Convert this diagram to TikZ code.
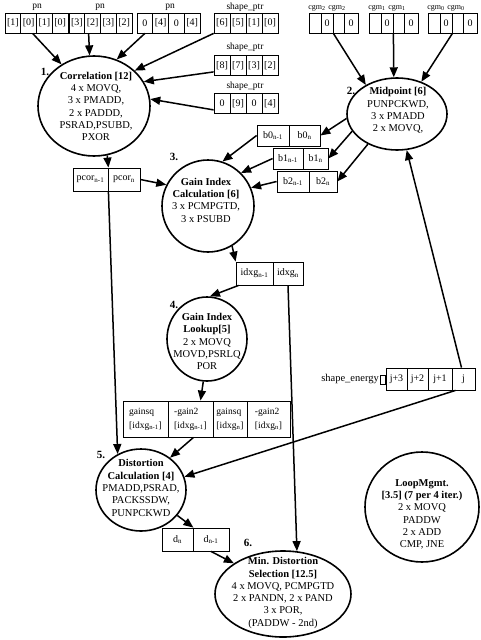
\documentclass[tikz,border=0pt]{standalone}
\usepackage{fontspec}
\setmainfont{Liberation Serif}
\usetikzlibrary{arrows.meta,shapes.geometric}
\begin{document}
\begin{tikzpicture}[x=1pt,y=-1pt,
  cell/.style={draw,line width=0.8pt,inner sep=0pt,minimum height=20pt,font=\fontsize{10}{11}\selectfont},
  cell2/.style={draw,line width=0.8pt,inner sep=0pt,minimum height=36pt,align=left,font=\fontsize{9.5}{14}\selectfont},
  ell/.style={draw,ellipse,line width=1.6pt,inner sep=0pt},
  etxt/.style={align=center,font=\fontsize{10.5}{12.3}\selectfont,inner sep=0pt},
  lbl/.style={font=\fontsize{9.5}{10}\selectfont,inner sep=0pt},
  slbl/.style={font=\fontsize{8}{9}\selectfont,inner sep=0pt},
  num/.style={font=\bfseries\fontsize{11}{12}\selectfont,inner sep=0pt},
  conn/.style={line width=1.5pt,-{Triangle[length=10pt,width=8pt]}}]
\useasboundingbox (0,0) rectangle (480,640);

% ---- top row: pn groups
\node[lbl] (pnA) at (37,7) {pn};
\node[lbl] (pnB) at (100,7) {pn};
\node[lbl] (pnC) at (170,7) {pn};
\foreach \t [count=\i] in {{[1]},{[0]},{[1]},{[0]}}
  \node[cell,minimum width=15.75pt] (pa-\i) at ({5+15.75*(\i-0.5)},23) {\t};
\foreach \t [count=\i] in {{[3]},{[2]},{[3]},{[2]}}
  \node[cell,minimum width=15.75pt] (pb-\i) at ({69+15.75*(\i-0.5)},23) {\t};
\foreach \t [count=\i] in {{0},{[4]},{0},{[4]}}
  \node[cell,minimum width=15.75pt] (pc-\i) at ({137+15.75*(\i-0.5)},23) {\t};

% ---- shape_ptr
\node[lbl] (spA) at (245,7) {shape\_ptr};
\node[lbl] (spB) at (245,47) {shape\_ptr};
\node[lbl] (spC) at (245,86) {shape\_ptr};
\foreach \t [count=\i] in {{[6]},{[5]},{[1]},{[0]}}
  \node[cell,minimum width=16pt] (s1-\i) at ({214+16*(\i-0.5)},23) {\t};
\foreach \t [count=\i] in {{[8]},{[7]},{[3]},{[2]}}
  \node[cell,minimum width=16pt] (s2-\i) at ({214+16*(\i-0.5)},65.5) {\t};
\foreach \t [count=\i] in {{0},{[9]},{0},{[4]}}
  \node[cell,minimum width=16pt] (s3-\i) at ({214+16*(\i-0.5)},103.5) {\t};

% ---- cgm groups
\foreach \L/\g/\s in {309/1/2,369/2/1,428/3/0} {
  \node[cell,minimum width=12pt] (c\g-1) at (\L+6,23) {};
  \node[cell,minimum width=12pt] (c\g-2) at (\L+18,23) {0};
  \node[cell,minimum width=11pt] (c\g-3) at (\L+29.5,23) {};
  \node[cell,minimum width=14pt] (c\g-4) at (\L+42,23) {0};
  \node[slbl] (cl\g-a) at (\L+8,8) {cgm\textsubscript{\s}};
  \node[slbl] (cl\g-b) at (\L+28,8) {cgm\textsubscript{\s}};
}

% ---- b boxes
\node[cell,minimum width=32pt,minimum height=21pt] (b0-1) at (273,135.5) {b0\textsubscript{n-1}};
\node[cell,minimum width=31pt,minimum height=21pt] (b0-2) at (304.5,135.5) {b0\textsubscript{n}};
\node[cell,minimum width=30pt,minimum height=21pt] (b1-1) at (288,158.5) {b1\textsubscript{n-1}};
\node[cell,minimum width=25pt,minimum height=21pt] (b1-2) at (315.5,158.5) {b1\textsubscript{n}};
\node[cell,minimum width=32pt,minimum height=21pt] (b2-1) at (293,181.5) {b2\textsubscript{n-1}};
\node[cell,minimum width=28pt,minimum height=21pt] (b2-2) at (323,181.5) {b2\textsubscript{n}};

% ---- pcor
\node[cell,minimum width=35pt,minimum height=23pt] (pcor-1) at (90.5,179.5) {pcor\textsubscript{n-1}};
\node[cell,minimum width=32pt,minimum height=23pt] (pcor-2) at (124,179.5) {pcor\textsubscript{n}};

% ---- idxg
\node[cell,minimum width=37pt,minimum height=23pt] (idx-1) at (254.5,273.5) {idxg\textsubscript{n-1}};
\node[cell,minimum width=30pt,minimum height=23pt] (idx-2) at (288,273.5) {idxg\textsubscript{n}};

% ---- gains
\node[cell2,minimum width=45pt] (g-1) at (145.5,419) {gainsq\\{}[idxg\textsubscript{n-1}]};
\node[cell2,minimum width=45pt] (g-2) at (190.5,419) {-gain2\\{}[idxg\textsubscript{n-1}]};
\node[cell2,minimum width=34pt] (g-3) at (230,419) {gainsq\\{}[idxg\textsubscript{n}]};
\node[cell2,minimum width=43pt] (g-4) at (268.5,419) {-gain2\\{}[idxg\textsubscript{n}]};

% ---- shape_energy
\node[lbl,anchor=east,font=\fontsize{10.5}{11}\selectfont] (seL) at (379,379) {shape\_energy};
\node[cell,minimum width=5pt,minimum height=9pt] (se-0) at (382.5,380) {};
\node[cell,minimum width=21pt,minimum height=22pt] (se-1) at (396.5,379) {j+3};
\node[cell,minimum width=21pt,minimum height=22pt] (se-2) at (417.5,379) {j+2};
\node[cell,minimum width=24pt,minimum height=22pt] (se-3) at (440,379) {j+1};
\node[cell,minimum width=23pt,minimum height=22pt] (se-4) at (463.5,379) {j};

% ---- d
\node[cell,minimum width=31pt,minimum height=23pt] (d-1) at (177.5,539.5) {d\textsubscript{n}};
\node[cell,minimum width=36pt,minimum height=23pt] (d-2) at (211,539.5) {d\textsubscript{n-1}};

% ---- ellipses
\node[ell,minimum width=112pt,minimum height=100pt] (e1) at (94,106) {};
\node[etxt] (t1) at (96,106.5) {\textbf{Correlation [12]}\\4 x MOVQ,\\3 x PMADD,\\2 x PADDD,\\PSRAD,PSUBD,\\PXOR};
\node[num] (n1) at (45,72) {1.};

\node[ell,minimum width=100pt,minimum height=72pt] (e2) at (397,114) {};
\node[etxt] (t2) at (398,110.5) {\textbf{Midpoint [6]}\\PUNPCKWD,\\3 x PMADD\\2 x MOVQ,};
\node[num] (n2) at (351,91) {2.};

\node[ell,minimum width=92pt,minimum height=92pt] (e3) at (208,206) {};
\node[etxt] (t3) at (206,200) {\textbf{Gain Index}\\\textbf{Calculation [6]}\\3 x PCMPGTD,\\3 x PSUBD};
\node[num] (n3) at (174,157) {3.};

\node[ell,minimum width=80pt,minimum height=84pt] (e4) at (207,339) {};
\node[etxt] (t4) at (207,341.5) {\textbf{Gain Index}\\\textbf{Lookup[5]}\\2 x MOVQ\\MOVD,PSRLQ\\POR};
\node[num] (n4) at (174,305) {4.};

\node[ell,minimum width=90pt,minimum height=82pt] (e5) at (141,490) {};
\node[etxt] (t5) at (141,488) {\textbf{Distortion}\\\textbf{Calculation [4]}\\PMADD,PSRAD,\\PACKSSDW,\\PUNPCKWD};
\node[num] (n5) at (101,455) {5.};

\node[ell,minimum width=136pt,minimum height=86pt] (e6) at (283,594) {};
\node[etxt] (t6) at (283,593) {\textbf{Min. Distortion}\\\textbf{Selection [12.5]}\\4 x MOVQ, PCMPGTD\\2 x PANDN, 2 x PAND\\3 x POR,\\(PADDW - 2nd)};
\node[num] (n6) at (248,543) {6.};

\node[ell,minimum width=114pt,minimum height=110pt] (e7) at (422,507) {};
\node[etxt] (t7) at (422,514.5) {\textbf{LoopMgmt.}\\\textbf{[3.5] (7 per 4 iter.)}\\2 x MOVQ\\PADDW\\2 x ADD\\CMP, JNE};

% ---- connectors
\draw[conn] ([xshift=4pt]pa-2.south) -- (e1.128);
\draw[conn] ([xshift=-4pt]pb-2.south) -- (e1.95);
\draw[conn] (pc-1.south) -- (e1.64);
\draw[conn] (s1-1.south west) -- (e1.41);
\draw[conn] ([yshift=4pt]s2-1.south west) -- (e1.26);
\draw[conn] ([yshift=4pt]s3-1.south west) -- (e1.7);
\draw[conn] (c1-2.south east) -- (e2.137);
\draw[conn] (c2-2.south east) -- (e2.95);
\draw[conn] (c3-2.south east) -- (e2.53);
\draw[conn] (e2.185) -- (b0-2.east);
\draw[conn] (e2.201) -- (b1-2.east);
\draw[conn] (e2.226) -- (b2-2.east);
\draw[conn] (b0-1.west) -- (e3.72);
\draw[conn] (b1-1.west) -- (e3.45);
\draw[conn] (b2-1.west) -- (e3.23);
\draw[conn] (e1.-75) -- (pcor-1.north east);
\draw[conn] (pcor-2.east) -- (e3.153);
\draw[conn] (pcor-1.south east) -- (e5.123);
\draw[conn] (e3.-59) -- (idx-1.north west);
\draw[conn] ([xshift=3pt]idx-1.south west) -- (e4.86);
\draw[conn] (idx-2.south) -- (e6.72);
\draw[conn] (e4.-95) -- ([xshift=10pt]g-2.north);
\draw[conn] ([xshift=3pt]g-2.south) -- (e5.48);
\draw[conn] ([xshift=-8pt]se-4.south) -- (e5.17);
\draw[conn] ([xshift=-2pt]se-4.north) -- (e2.-75);
\draw[conn] (e5.-35) -- (d-1.north east);
\draw[conn] (d-2.south) -- (e6.148);
\end{tikzpicture}
\end{document}
